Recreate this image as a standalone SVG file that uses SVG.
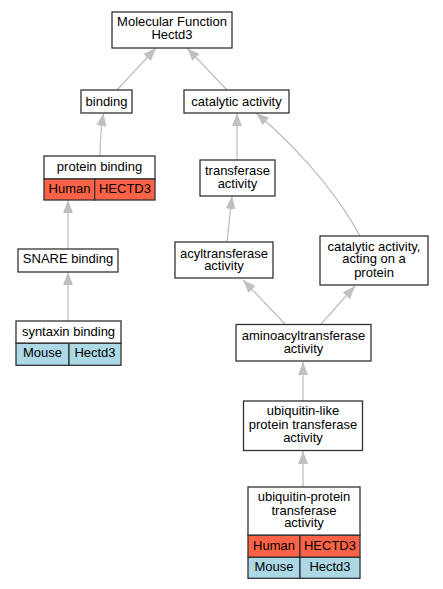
<svg xmlns="http://www.w3.org/2000/svg" width="443" height="589" viewBox="0 0 443 589">
<style>
.n{fill:#fff;stroke:#333;stroke-width:1.3}
.h{fill:#ff6347;stroke:#333;stroke-width:1.3}
.m{fill:#add8e6;stroke:#333;stroke-width:1.3}
text{font-family:"Liberation Sans",Arial,sans-serif;font-size:13px;fill:#000;text-anchor:middle}
.e{fill:none;stroke:#c0c0c0;stroke-width:1.3}
</style>
<defs>
<marker id="a" markerUnits="userSpaceOnUse" markerWidth="14" markerHeight="11" refX="13" refY="5" orient="auto" viewBox="0 0 14 10">
<path d="M0,0 L13,5 L0,10 z" fill="#c0c0c0"/>
</marker>
</defs>
<rect width="443" height="589" fill="#fff"/>
<g id="edges">
<path class="e" marker-end="url(#a)" d="M117,90 L156,48"/>
<path class="e" marker-end="url(#a)" d="M227,90 L187,48"/>
<path class="e" marker-end="url(#a)" d="M100,156 C100,140 101,128 103.5,113"/>
<path class="e" marker-end="url(#a)" d="M237,160 L237,113"/>
<path class="e" marker-end="url(#a)" d="M360,236 C345,208 312,160 256,113"/>
<path class="e" marker-end="url(#a)" d="M68,249 L68,200"/>
<path class="e" marker-end="url(#a)" d="M68,321 L68,272"/>
<path class="e" marker-end="url(#a)" d="M227,242 L232,196"/>
<path class="e" marker-end="url(#a)" d="M285,324 L243,280"/>
<path class="e" marker-end="url(#a)" d="M321,324 L355,286"/>
<path class="e" marker-end="url(#a)" d="M303,401 L303,362"/>
<path class="e" marker-end="url(#a)" d="M303,487 L303,451"/>
</g>
<g id="mf">
<rect class="n" x="112" y="12" width="120" height="36"/>
<text x="172" y="26">Molecular Function</text>
<text x="172" y="39">Hectd3</text>
</g>
<g id="binding">
<rect class="n" x="81" y="90" width="51" height="23"/>
<text x="106.5" y="105.5">binding</text>
</g>
<g id="catalytic">
<rect class="n" x="184" y="90" width="105" height="23"/>
<text x="236.5" y="105.5">catalytic activity</text>
</g>
<g id="protein_binding">
<rect class="n" x="44" y="156" width="111" height="23"/>
<rect class="h" x="44" y="179" width="50.7" height="21"/>
<rect class="h" x="94.7" y="179" width="60.3" height="21"/>
<text x="99.5" y="170.5">protein binding</text>
<text x="69.5" y="192.5">Human</text>
<text x="125" y="192.5">HECTD3</text>
</g>
<g id="transferase">
<rect class="n" x="200" y="160" width="75" height="36"/>
<text x="237.5" y="174.5">transferase</text>
<text x="237.5" y="187.5">activity</text>
</g>
<g id="snare">
<rect class="n" x="18" y="249" width="100" height="23"/>
<text x="68" y="263">SNARE binding</text>
</g>
<g id="syntaxin">
<rect class="n" x="16" y="321" width="105" height="22.3"/>
<rect class="m" x="16" y="343.3" width="53" height="22"/>
<rect class="m" x="69" y="343.3" width="52" height="22"/>
<text x="68.5" y="335.5">syntaxin binding</text>
<text x="42.5" y="357">Mouse</text>
<text x="95" y="357">Hectd3</text>
</g>
<g id="acyl">
<rect class="n" x="175" y="242" width="98" height="36"/>
<text x="224" y="257.5">acyltransferase</text>
<text x="224" y="270">activity</text>
</g>
<g id="cat_protein">
<rect class="n" x="320" y="236" width="108" height="49"/>
<text x="374" y="250.5">catalytic activity,</text>
<text x="374" y="263">acting on a</text>
<text x="374" y="276.5">protein</text>
</g>
<g id="aminoacyl">
<rect class="n" x="236" y="324.5" width="135" height="36.5"/>
<text x="303.5" y="339.5">aminoacyltransferase</text>
<text x="303.5" y="353">activity</text>
</g>
<g id="ubl">
<rect class="n" x="243.5" y="401" width="119" height="49.5"/>
<text x="303" y="414.5">ubiquitin-like</text>
<text x="303" y="428.5">protein transferase</text>
<text x="303" y="441.5">activity</text>
</g>
<g id="ubp">
<rect class="n" x="248" y="487" width="112" height="48.3"/>
<rect class="h" x="248" y="535.3" width="52" height="22"/>
<rect class="h" x="300" y="535.3" width="60" height="22"/>
<rect class="m" x="248" y="557.3" width="52" height="21"/>
<rect class="m" x="300" y="557.3" width="60" height="21"/>
<text x="304" y="501">ubiquitin-protein</text>
<text x="304" y="514.5">transferase</text>
<text x="304" y="527">activity</text>
<text x="274" y="549.5">Human</text>
<text x="330" y="549.5">HECTD3</text>
<text x="274" y="571">Mouse</text>
<text x="330" y="571">Hectd3</text>
</g>
</svg>
